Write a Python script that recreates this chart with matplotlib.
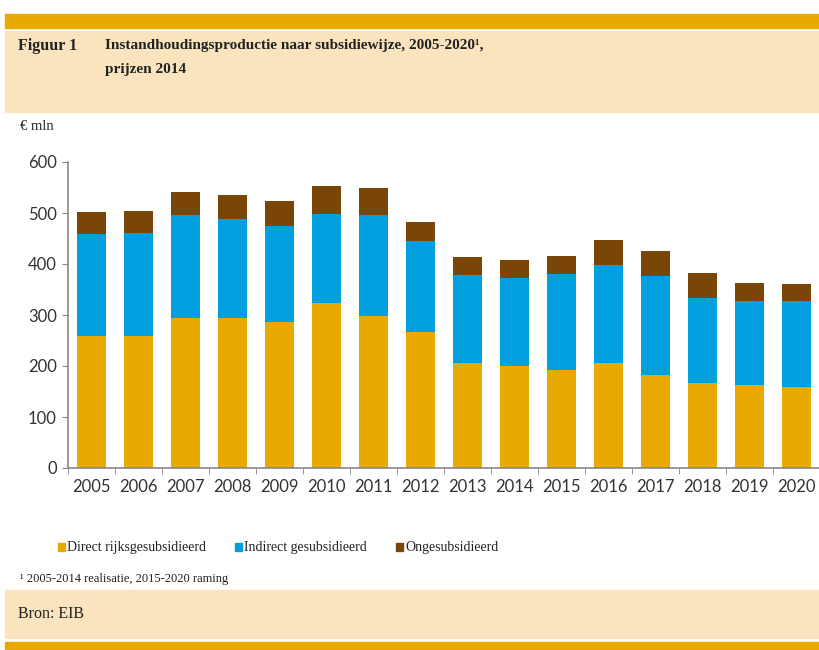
import matplotlib
matplotlib.use("Agg")
import matplotlib.pyplot as plt
from matplotlib.patches import Rectangle
import numpy as np

# data (EUR mln, prijzen 2014)
years = ["2005", "2006", "2007", "2008", "2009", "2010", "2011", "2012",
         "2013", "2014", "2015", "2016", "2017", "2018", "2019", "2020"]
direct = [259, 259, 295, 295, 287, 323, 299, 267, 205, 200, 192, 205, 182, 166, 162, 158]
indirect = [199, 201, 201, 193, 187, 175, 197, 178, 173, 172, 188, 193, 195, 167, 166, 169]
onges = [43, 43, 45, 47, 50, 54, 53, 38, 36, 36, 35, 49, 48, 49, 35, 33]
labels = ["Direct rijksgesubsidieerd", "Indirect gesubsidieerd", "Ongesubsidieerd"]
colors = ["#E8AA00", "#009FDF", "#7A4608"]

W, H = 820, 650
fig = plt.figure(figsize=(W / 100, H / 100), dpi=100)

def box(x0, y0, x1, y1, color):
    # pixel coords, y from top
    fig.patches.append(Rectangle((x0 / W, 1 - y1 / H), (x1 - x0) / W, (y1 - y0) / H,
                                 transform=fig.transFigure, color=color, zorder=0))

orange = "#E8A900"
beige = "#FAE4BD"
box(5, 14, 820, 28, orange)
box(5, 31, 820, 112, beige)
box(5, 590, 820, 638, beige)
box(5, 642, 820, 650, orange)

serif = ["Liberation Serif", "DejaVu Serif"]
txt = "#222222"
fig.text(18 / W, 1 - 46 / H, "Figuur 1", family=serif, fontsize=11.5, weight="bold",
         color=txt, va="center")
fig.text(105 / W, 1 - 46 / H, "Instandhoudingsproductie naar subsidiewijze, 2005-2020\u00b9,",
         family=serif, fontsize=11, weight="bold", color=txt, va="center")
fig.text(105 / W, 1 - 70 / H, "prijzen 2014", family=serif, fontsize=11, weight="bold",
         color=txt, va="center")
fig.text(20 / W, 1 - 126 / H, "\u20ac mln", family=serif, fontsize=10.5, color=txt,
         va="center")
fig.text(20 / W, 1 - 579 / H, "\u00b9 2005-2014 realisatie, 2015-2020 raming", family=serif,
         fontsize=9, color=txt, va="center")
fig.text(18 / W, 1 - 614 / H, "Bron: EIB", family=serif, fontsize=11.5, color=txt,
         va="center")

ax = fig.add_axes([68 / W, 1 - 468 / H, (820 - 68) / W, (468 - 162) / H])
x = np.arange(len(years))
bw = 0.63
bottom = np.zeros(len(years))
for vals, c, lab in zip([direct, indirect, onges], colors, labels):
    ax.bar(x, vals, bw, bottom=bottom, color=c, label=lab, zorder=2)
    bottom += np.array(vals)

ax.set_ylim(0, 600)
ax.set_xlim(-0.5, len(years) - 0.5)
ax.set_yticks(range(0, 601, 100))
ax.set_xticks(x)
ax.set_xticklabels(years)
ax.set_xticks(np.arange(-0.5, len(years) - 0.4, 1), minor=True)
ax.tick_params(axis="x", which="major", length=0, pad=8)
ax.tick_params(axis="x", which="minor", length=4, color="#888888")
ax.tick_params(axis="y", length=4, color="#888888", pad=4)
for lab in ax.get_xticklabels() + ax.get_yticklabels():
    lab.set_family(["Lato", "DejaVu Sans"])
    lab.set_fontsize(12)
    lab.set_color("#333333")
for s in ["top", "right"]:
    ax.spines[s].set_visible(False)
ax.spines["left"].set_color("#888888")
ax.spines["bottom"].set_color("#888888")
ax.spines["left"].set_linewidth(1.2)
ax.spines["bottom"].set_linewidth(1.2)

# legend, placed by hand like the original
leg_x = [58, 235, 396]
for lx, c, lab in zip(leg_x, colors, labels):
    box(lx, 543, lx + 7, 551, c)
    fig.text((lx + 9) / W, 1 - 548 / H, lab, family=serif, fontsize=10, color=txt,
             va="center")

fig.savefig("out.png", dpi=100)
